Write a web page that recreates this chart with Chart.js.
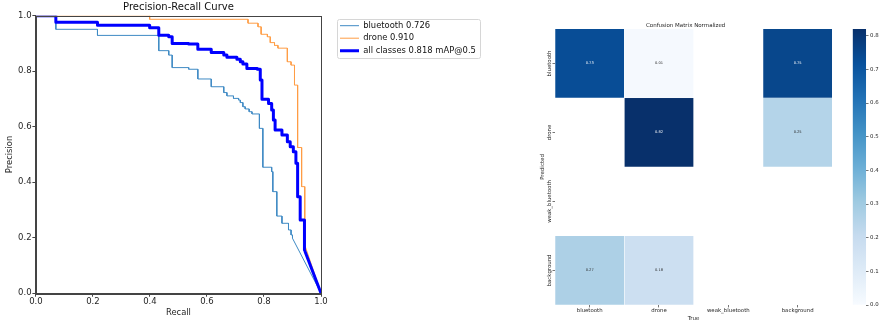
<!DOCTYPE html>
<html>
<head>
<meta charset="utf-8">
<script src="https://cdn.jsdelivr.net/npm/chart.js@4.4.1/dist/chart.umd.min.js"></script>
<style>
  html, body { margin: 0; padding: 0; background: #fff; }
  #wrap { position: relative; width: 883px; height: 324px; overflow: hidden; }
  #wrap canvas { position: absolute; top: 0; }
</style>
</head>
<body>
<div id="wrap">
  <canvas id="prChart" width="330" height="324" style="left:0"></canvas>
  <canvas id="prLegend" width="160" height="160" style="left:330px"></canvas>
  <canvas id="cmChart" width="303" height="324" style="left:530px"></canvas>
  <canvas id="cbChart" width="38" height="324" style="left:845px"></canvas>
</div>
<script>
/* ===== PR curve data (step positions and precision levels) ===== */
var BT_RECALL = [0.070, 0.216, 0.431, 0.466, 0.478, 0.536, 0.568, 0.615, 0.659, 0.670, 0.693, 0.711, 0.717,
                 0.726, 0.734, 0.748, 0.758, 0.784, 0.796, 0.827, 0.831, 0.845, 0.863, 0.886, 0.895, 0.900];
var BT_PRECISION = [1.000, 0.951, 0.929, 0.874, 0.858, 0.813, 0.807, 0.772, 0.744, 0.723, 0.711, 0.702, 0.696, 0.687,
                    0.672, 0.664, 0.654, 0.646, 0.594, 0.454, 0.438, 0.366, 0.278, 0.252, 0.228, 0.210, 0.198];

var DRONE_RECALL = [0.399, 0.744, 0.779, 0.790, 0.812, 0.822, 0.837, 0.849, 0.882, 0.895, 0.907, 0.918, 0.932, 0.943];
var DRONE_PRECISION = [1.000, 0.987, 0.973, 0.960, 0.933, 0.924, 0.903, 0.893, 0.883, 0.834, 0.822, 0.750, 0.525, 0.384, 0.174];

var ALL_RECALL = [0.070, 0.216, 0.399, 0.431, 0.466, 0.478, 0.536, 0.568, 0.615, 0.659, 0.670, 0.705, 0.717, 0.726, 0.740,
                  0.777, 0.787, 0.793, 0.816, 0.827, 0.833, 0.839, 0.863, 0.882, 0.892, 0.903, 0.912, 0.918, 0.927, 0.942];
var ALL_PRECISION = [1.000, 0.976, 0.966, 0.957, 0.930, 0.924, 0.900, 0.898, 0.879, 0.867, 0.858, 0.850, 0.843, 0.834, 0.826, 0.810,
                     0.807, 0.768, 0.699, 0.684, 0.660, 0.624, 0.588, 0.570, 0.546, 0.528, 0.510, 0.468, 0.348, 0.264, 0.156];

var PR_LABELS = ['bluetooth 0.726', 'drone 0.910', 'all classes 0.818 mAP@0.5'];
var AXIS_TICKS = [0, 0.2, 0.4, 0.6, 0.8, 1.0];

/* ===== Confusion matrix data (rows = predicted, cols = true) ===== */
var CM_TRUE = ['bluetooth', 'drone', 'weak_bluetooth', 'background'];
var CM_PRED = ['bluetooth', 'drone', 'weak_bluetooth', 'background'];
var CM_ROW_BLUETOOTH = [0.73, 0.01, null, 0.75];
var CM_ROW_DRONE = [null, 0.82, null, 0.25];
var CM_ROW_WEAK = [null, null, null, null];
var CM_ROW_BACKGROUND = [0.27, 0.18, null, null];
var CM_ROWS = [CM_ROW_BLUETOOTH, CM_ROW_DRONE, CM_ROW_WEAK, CM_ROW_BACKGROUND];
var CB_TICKS = [0, 0.1, 0.2, 0.3, 0.4, 0.5, 0.6, 0.7, 0.8];

var FONT_FAMILY = "'DejaVu Sans', sans-serif";
var TEXT = '#262626';
var AXIS = '#444';
var SMALL_FONT = 5.4;

/* matplotlib "Blues" */
var BLUES = ['#f7fbff', '#deebf7', '#c6dbef', '#9ecae1', '#6baed6', '#4292c6', '#2171b5', '#08519c', '#08306b'];

function hexRgb(h) {
    return [parseInt(h.substr(1, 2), 16), parseInt(h.substr(3, 2), 16), parseInt(h.substr(5, 2), 16)];
}
function bluesRgb(t) {
    t = Math.max(0, Math.min(1, t));
    var pos = t * (BLUES.length - 1);
    var i = Math.min(Math.floor(pos), BLUES.length - 2);
    var f = pos - i;
    var a = hexRgb(BLUES[i]), b = hexRgb(BLUES[i + 1]);
    return [0, 1, 2].map(function (k) { return Math.round(a[k] + (b[k] - a[k]) * f); });
}
function rgbStr(c) { return 'rgb(' + c[0] + ',' + c[1] + ',' + c[2] + ')'; }
function luminance(c) {
    var l = c.map(function (v) { v /= 255; return v <= 0.03928 ? v / 12.92 : Math.pow((v + 0.055) / 1.055, 2.4); });
    return 0.2126 * l[0] + 0.7152 * l[1] + 0.0722 * l[2];
}

function buildCurve(recall, precision) {
    var pts = [{ x: 0, y: precision[0] }];
    for (var i = 0; i < recall.length; i++) {
        pts.push({ x: recall[i], y: precision[i] });
        pts.push({ x: recall[i], y: precision[i + 1] });
    }
    pts.push({ x: 1, y: 0 });
    return pts;
}

/* dataset styles shared by the plot and its legend */
var PR_STYLES = [
    { color: '#3f8ac4', width: 1, order: 2 },
    { color: '#ff9d45', width: 1, order: 1 },
    { color: '#0000ff', width: 3, order: 0 }
];
var PR_CURVES = [
    buildCurve(BT_RECALL, BT_PRECISION),
    buildCurve(DRONE_RECALL, DRONE_PRECISION),
    buildCurve(ALL_RECALL, ALL_PRECISION)
];
function prDatasets(withData) {
    return PR_LABELS.map(function (lbl, i) {
        return {
            label: lbl,
            data: withData ? PR_CURVES[i] : [],
            borderColor: PR_STYLES[i].color,
            backgroundColor: PR_STYLES[i].color,
            borderWidth: PR_STYLES[i].width,
            order: PR_STYLES[i].order
        };
    });
}

/* ===== Plugins ===== */
var frame = {
    id: 'frame',
    afterDraw: function (chart) {
        var a = chart.chartArea, ctx = chart.ctx;
        ctx.save();
        ctx.strokeStyle = AXIS;
        ctx.lineWidth = 1;
        ctx.strokeRect(Math.round(a.left) + 0.5, Math.round(a.top) + 0.5, Math.round(a.right - a.left), Math.round(a.bottom - a.top));
        ctx.restore();
    }
};

var legendFrame = {
    id: 'legendFrame',
    afterDraw: function (chart) {
        var lg = chart.legend;
        if (!lg || !lg.legendHitBoxes || !lg.legendHitBoxes.length) return;
        var hb = lg.legendHitBoxes;
        var l = hb[0].left - 2.7, t = hb[0].top - 2.2;
        var r = Math.max.apply(null, hb.map(function (h) { return h.left + h.width; })) + 4.4;
        var b = hb[hb.length - 1].top + hb[hb.length - 1].height + 3;
        var ctx = chart.ctx;
        ctx.save();
        ctx.strokeStyle = '#d6d6d6';
        ctx.lineWidth = 1;
        ctx.beginPath();
        ctx.roundRect(Math.round(l) + 0.5, Math.round(t) + 0.5, Math.round(r - l), Math.round(b - t), 2);
        ctx.stroke();
        ctx.restore();
    }
};

/* ===== PR chart ===== */
new Chart(document.getElementById('prChart'), {
    type: 'line',
    data: { datasets: prDatasets(true) },
    options: {
        responsive: false,
        animation: false,
        elements: {
            point: { radius: 0 },
            line: { tension: 0, borderJoinStyle: 'round', fill: false }
        },
        layout: { padding: { left: 4.3, top: 0, right: 9, bottom: 5 } },
        plugins: {
            title: {
                display: true, text: 'Precision-Recall Curve', fullSize: false, color: '#111',
                font: { family: FONT_FAMILY, size: 10, weight: 'normal' },
                padding: { top: 1.3, bottom: 2.4 }
            },
            legend: { display: false },
            tooltip: { enabled: false }
        },
        scales: {
            x: {
                type: 'linear', min: 0, max: 1,
                afterBuildTicks: function (axis) { axis.ticks = AXIS_TICKS.map(function (v) { return { value: v }; }); },
                ticks: {
                    color: TEXT, padding: 0, maxRotation: 0, autoSkip: false,
                    font: { family: FONT_FAMILY, size: 8.5 },
                    callback: function (v) { return Number(v).toFixed(1); }
                },
                grid: { drawOnChartArea: false, tickLength: 3.5, color: AXIS },
                border: { color: AXIS },
                title: { display: true, text: 'Recall', color: TEXT, font: { family: FONT_FAMILY, size: 8.4 }, padding: { top: 1.3, bottom: 0.7 } }
            },
            y: {
                type: 'linear', min: 0, max: 1,
                afterBuildTicks: function (axis) { axis.ticks = AXIS_TICKS.map(function (v) { return { value: v }; }); },
                ticks: {
                    color: TEXT, padding: 0.8, autoSkip: false,
                    font: { family: FONT_FAMILY, size: 8.5 },
                    callback: function (v) { return Number(v).toFixed(1); }
                },
                grid: { drawOnChartArea: false, tickLength: 3.5, color: AXIS },
                border: { color: AXIS },
                title: { display: true, text: 'Precision', color: TEXT, font: { family: FONT_FAMILY, size: 8.4 }, padding: { top: 0, bottom: 2.9 } }
            }
        }
    },
    plugins: [frame]
});

/* legend of the PR chart, laid out one entry per row */
new Chart(document.getElementById('prLegend'), {
    type: 'line',
    data: { datasets: prDatasets(false) },
    options: {
        responsive: false,
        animation: false,
        layout: { padding: { left: 5.9, top: 17.4, right: 0, bottom: 0 } },
        scales: { x: { display: false }, y: { display: false } },
        plugins: {
            tooltip: { enabled: false },
            legend: {
                position: 'top', align: 'start', fullSize: true,
                labels: {
                    usePointStyle: true, pointStyle: 'line', pointStyleWidth: 19, padding: 4.1,
                    color: '#111', font: { family: FONT_FAMILY, size: 8.4 },
                    sort: function (a, b) { return a.datasetIndex - b.datasetIndex; }
                }
            }
        }
    },
    plugins: [legendFrame]
});

/* ===== Confusion matrix heatmap ===== */
var CM_VMAX = Math.max.apply(null, CM_ROWS.map(function (r) {
    return Math.max.apply(null, r.map(function (v) { return v == null ? 0 : v; }));
}));

var cellText = {
    id: 'cellText',
    afterDatasetsDraw: function (chart) {
        var ctx = chart.ctx;
        ctx.save();
        ctx.font = '3.6px ' + FONT_FAMILY;
        ctx.textAlign = 'center';
        ctx.textBaseline = 'middle';
        CM_ROWS.forEach(function (row, i) {
            var meta = chart.getDatasetMeta(i);
            row.forEach(function (v, j) {
                if (v == null) return;
                var bar = meta.data[j];
                var c = bluesRgb(v / CM_VMAX);
                ctx.fillStyle = luminance(c) > 0.408 ? TEXT : '#ffffff';
                ctx.fillText(v.toFixed(2), bar.x, (bar.y + bar.base) / 2);
            });
        });
        ctx.restore();
    }
};

var rowLabels = {
    id: 'rowLabels',
    afterDraw: function (chart) {
        var ys = chart.scales.y, ctx = chart.ctx;
        ctx.save();
        ctx.font = SMALL_FONT + 'px ' + FONT_FAMILY;
        ctx.fillStyle = TEXT;
        ctx.textAlign = 'center';
        ctx.textBaseline = 'middle';
        CM_PRED.forEach(function (name, i) {
            ctx.save();
            ctx.translate(chart.chartArea.left - 5.5, ys.getPixelForValue(i + 0.5));
            ctx.rotate(-Math.PI / 2);
            ctx.fillText(name, 0, 0);
            ctx.restore();
        });
        ctx.restore();
    }
};

new Chart(document.getElementById('cmChart'), {
    type: 'bar',
    data: {
        labels: CM_TRUE,
        datasets: CM_ROWS.map(function (row, i) {
            return {
                label: CM_PRED[i],
                data: row.map(function (v) { return v == null ? null : [i, i + 1]; }),
                backgroundColor: row.map(function (v) { return v == null ? 'rgba(0,0,0,0)' : rgbStr(bluesRgb(v / CM_VMAX)); }),
                borderColor: 'rgba(255,255,255,0.35)',
                borderWidth: 0.6,
                grouped: false,
                barPercentage: 1,
                categoryPercentage: 1
            };
        })
    },
    options: {
        responsive: false,
        animation: false,
        layout: { padding: { left: 9, top: 0, right: 0.7, bottom: 0 } },
        plugins: {
            legend: { display: false },
            tooltip: { enabled: false },
            title: {
                display: true, text: 'Confusion Matrix Normalized', color: TEXT,
                font: { family: FONT_FAMILY, size: 5.5, weight: 'normal' },
                padding: { top: 22, bottom: 0.4 }
            }
        },
        scales: {
            x: {
                type: 'category',
                ticks: { color: TEXT, padding: 0, maxRotation: 0, autoSkip: false, font: { family: FONT_FAMILY, size: SMALL_FONT } },
                grid: { drawOnChartArea: false, tickLength: 2.5, color: '#777', offset: false },
                border: { display: false },
                title: { display: true, text: 'True', color: TEXT, font: { family: FONT_FAMILY, size: 5.5 }, padding: { top: 1.1, bottom: 2.4 } }
            },
            y: {
                type: 'linear', min: 0, max: 4, reverse: true,
                afterBuildTicks: function (axis) { axis.ticks = CM_PRED.map(function (n, i) { return { value: i + 0.5 }; }); },
                ticks: { display: false },
                grid: { drawOnChartArea: false, tickLength: 2.5, color: '#777' },
                border: { display: false },
                title: { display: true, text: 'Predicted', color: TEXT, font: { family: FONT_FAMILY, size: 5.5 }, padding: { top: 0, bottom: 6.9 } }
            }
        }
    },
    plugins: [cellText, rowLabels]
});

/* ===== Colour bar ===== */
new Chart(document.getElementById('cbChart'), {
    type: 'bar',
    data: {
        labels: [''],
        datasets: [{
            data: [[0, CM_VMAX]],
            barPercentage: 1,
            categoryPercentage: 1,
            borderWidth: 0,
            backgroundColor: function (c) {
                var a = c.chart.chartArea;
                if (!a) return BLUES[4];
                var g = c.chart.ctx.createLinearGradient(0, a.bottom, 0, a.top);
                BLUES.forEach(function (col, k) { g.addColorStop(k / (BLUES.length - 1), col); });
                return g;
            }
        }]
    },
    options: {
        responsive: false,
        animation: false,
        layout: { padding: { left: 7.7, top: 29, right: 3.6, bottom: 19 } },
        plugins: { legend: { display: false }, tooltip: { enabled: false } },
        scales: {
            x: { display: false },
            y: {
                position: 'right', min: 0, max: CM_VMAX,
                afterBuildTicks: function (axis) { axis.ticks = CB_TICKS.map(function (v) { return { value: v }; }); },
                ticks: { color: TEXT, padding: 1.5, font: { family: FONT_FAMILY, size: SMALL_FONT }, callback: function (v) { return Number(v).toFixed(1); } },
                grid: { drawOnChartArea: false, tickLength: 2.5, color: '#777' },
                border: { display: false }
            }
        }
    }
});
</script>
</body>
</html>
